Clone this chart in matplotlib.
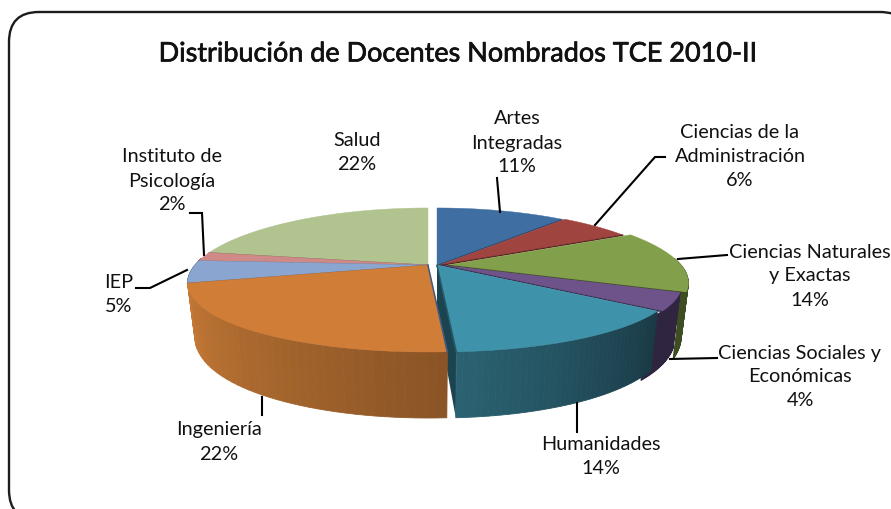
import numpy as np
import matplotlib
matplotlib.use('Agg')
import matplotlib.pyplot as plt
import matplotlib.patheffects as pe
from matplotlib.patches import FancyBboxPatch
from matplotlib.colors import to_rgb

title = 'Distribución de Docentes Nombrados TCE 2010-II'
categories = ['Artes\nIntegradas', 'Ciencias de la\nAdministración', 'Ciencias Naturales\ny Exactas',
              'Ciencias Sociales y\nEconómicas', 'Humanidades', 'Ingeniería', 'IEP',
              'Instituto de\nPsicología', 'Salud']
values = [11, 6, 14, 4, 14, 22, 5, 2, 22]

top_colors = ['#3f6ea3', '#a0443f', '#82a04b', '#6d5389', '#3e93aa', '#d07d38', '#8aa5cf', '#cf8a88', '#b1c38e']
wall_left = ['#2c4e75', '#6f2f2c', '#3f4d22', '#2f2540', '#2b6373', '#c87b36', '#56698a', '#8a5a58', '#74815c']
wall_right = ['#2c4e75', '#6f2f2c', '#3f4d22', '#2f2540', '#1a3a46', '#8a5426', '#56698a', '#8a5a58', '#74815c']
edge_colors = ['#2a4a70', '#5e2522', '#3c4a1e', '#3b2c50', '#25596a', '#3f5a80', '#3f5a80', '#7a5050', '#4f5a3a']
# sideways shift of each slice in pixels (the pie is pulled apart a bit)
shifts = [0, 3, 11, 5, 0, -9, -9, -9, -9]

label_pos = [(517, 143), (740, 156), (810, 276), (800, 377), (601, 457), (219, 442), (119, 294), (172, 181), (357, 153)]
leaders = [
    [(497, 178), (500, 212)],
    [(665, 157), (655, 157), (595, 225)],
    [(727, 255), (678, 259)],
    [(717, 358), (670, 359)],
    [(577, 403), (577, 432)],
    [(262, 397), (262, 415)],
    [(136, 288), (150, 288), (187, 270)],
    [(190, 213), (202, 213), (204, 255)],
]

CX, CY = 437, 265
RX, RY = 233, 68.9
PX, PY = 0.246, 0.208

plt.rcParams['font.family'] = ['Lato', 'DejaVu Sans']


def project(theta, dx):
    u, v = np.sin(theta), np.cos(theta)
    return CX + dx + RX * u / (1 + PX * v), CY - RY * v / (1 + PY * v)


def project_low(theta, dx):
    x, y = project(theta, dx)
    return CX + dx + (x - CX - dx) * 0.97, y + 50 - 16 * np.cos(theta)


def mix(c1, c2, t):
    c1, c2 = np.array(to_rgb(c1)), np.array(to_rgb(c2))
    return tuple(c1 + (c2 - c1) * t)


def draw_wall(ax, a, b, dx, color_a, color_b):
    a, b = max(a, np.pi / 2 - 0.1), min(b, 3 * np.pi / 2 + 0.1)
    if b <= a:
        return
    steps = np.linspace(a, b, 41)
    for t0, t1 in zip(steps[:-1], steps[1:]):
        x0, y0 = project(t0, dx)
        x1, y1 = project(t1, dx)
        x2, y2 = project_low(t1, dx)
        x3, y3 = project_low(t0, dx)
        col = mix(color_a, color_b, (t0 - a) / (b - a))
        ax.fill([x0, x1, x2, x3], [y0, y1, y2, y3], color=col, lw=0.6, zorder=2)


def draw_slice(ax, i, a, b):
    dx = shifts[i]
    # right side slices go from the back to the front, walls first
    if i == 4:
        x_rim, y_rim = project(b, dx)
        x_low, y_low = project_low(b, dx)
        ax.fill([CX + dx, x_rim, x_low, CX + dx], [CY, y_rim, y_low, CY + 50], color='#1c4450', lw=0, zorder=2)
    # walls of the back slices run on a bit behind the next slice, no white gap
    wall_end = b + 0.12 if i < 4 else b
    draw_wall(ax, a, wall_end, dx, wall_right[i], wall_left[i])

    t = np.linspace(a, b, 80)
    x, y = project(t, dx)
    ax.fill(np.r_[CX + dx, x], np.r_[CY, y], color=top_colors[i], lw=0.3, zorder=2)

    # thin dark edge where the slice is cut
    lower = b if i < 5 else a
    xe, ye = project(lower, dx)
    ax.plot([CX + dx, xe], [CY + 0.5, ye + 0.5], color=edge_colors[i], lw=1.1, zorder=2)


def main():
    fig = plt.figure(figsize=(8.91, 5.09), dpi=100)
    ax = fig.add_axes([0, 0, 1, 1])
    ax.set_xlim(0, 891)
    ax.set_ylim(509, 0)
    ax.axis('off')

    ax.add_patch(FancyBboxPatch((39, 42), 841, 448, boxstyle='round,pad=30,rounding_size=30',
                                fc='white', ec='#1c1c1c', lw=1.7, zorder=1))

    # regular weight with a thin outline, the original is only semi bold
    ax.text(457, 54, title, ha='center', va='center', fontsize=19.45, color='#111111', zorder=5,
            path_effects=[pe.withStroke(linewidth=0.5, foreground='#111111')])

    edges = np.cumsum([0] + values) / sum(values) * 2 * np.pi

    # painter's order: right half back to front, then left half
    for i in [0, 1, 2, 3, 4, 8, 7, 6, 5]:
        draw_slice(ax, i, edges[i], edges[i + 1])

    for pts in leaders:
        xs, ys = zip(*pts)
        ax.plot(xs, ys, color='black', lw=1.5, zorder=3, solid_joinstyle='miter')

    for name, val, (x, y) in zip(categories, values, label_pos):
        ax.text(x, y, f'{name}\n{val}%', ha='center', va='center', fontsize=14.3,
                linespacing=1.5, color='#111111', zorder=5)

    fig.savefig('out.png', dpi=100)


if __name__ == '__main__':
    main()
